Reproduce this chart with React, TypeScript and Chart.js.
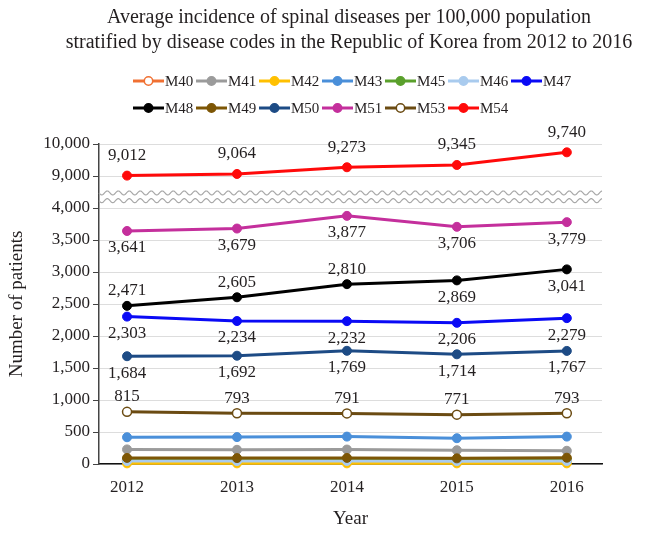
import React, { useEffect, useRef } from 'react';
import { Chart, registerables } from 'chart.js';

Chart.register(...registerables);

const FONT = "'Liberation Serif', 'DejaVu Serif', serif";
const TEXT = '#231f20';

const titleLines = [
  'Average incidence of spinal diseases per 100,000 population',
  'stratified by disease codes in the Republic of Korea from 2012 to 2016',
];
const xTitle = 'Year';
const yTitle = 'Number of patients';

const years = [2012, 2013, 2014, 2015, 2016];
const yTickValues = [0, 500, 1000, 1500, 2000, 2500, 3000, 3500, 4000, 9000, 10000];

const seriesNames = ['M40', 'M41', 'M42', 'M43', 'M45', 'M46', 'M47', 'M48', 'M49', 'M50', 'M51', 'M53', 'M54'];
const M40 = [60, 58, 62, 55, 60];
const M41 = [228, 222, 226, 215, 207];
const M42 = [10, 10, 10, 10, 10];
const M43 = [418, 420, 428, 403, 428];
const M45 = [70, 68, 72, 66, 70];
const M46 = [45, 45, 47, 44, 46];
const M47 = [2303, 2234, 2232, 2206, 2279];
const M48 = [2471, 2605, 2810, 2869, 3041];
const M49 = [95, 92, 95, 88, 98];
const M50 = [1684, 1692, 1769, 1714, 1767];
const M51 = [3641, 3679, 3877, 3706, 3779];
const M53 = [815, 793, 791, 771, 793];
const M54 = [9012, 9064, 9273, 9345, 9740];
const seriesValues = [M40, M41, M42, M43, M45, M46, M47, M48, M49, M50, M51, M53, M54];

const seriesColors = ['#f07032', '#9b9b9b', '#ffc000', '#4a8fd9', '#5aa02c', '#a9cbee', '#0a0af5', '#000000', '#7d5605', '#1d4b85', '#c42f9c', '#6b4b12', '#ff0a0a'];
const seriesHollow = [true, false, false, false, false, false, false, false, false, false, false, true, false];
// label placement: 'a' above, 'b' below, '' none
const seriesLabelPos = [
  '', '', '', '', '', '',
  'bbbbb', // M47
  'aaabb', // M48
  '',
  'bbbbb', // M50
  'bbbbb', // M51
  'aaaaa', // M53
  'aaaaa', // M54
];

// broken axis: 0-4000 linear, then 9000-10000 compressed by half
const BREAK_LOW = 4000;
const BREAK_HIGH = 9000;
const BREAK_GAP = 500;
const UPPER_FACTOR = 0.5;
const toDisplay = (v: number) => (v <= BREAK_LOW ? v : BREAK_LOW + BREAK_GAP + (v - BREAK_HIGH) * UPPER_FACTOR);
const fromDisplay = (d: number) => (d <= BREAK_LOW ? d : BREAK_HIGH + (d - BREAK_LOW - BREAK_GAP) / UPPER_FACTOR);

const fmt = (v: number) => Math.round(v).toLocaleString('en-US');

const decorPlugin = {
  id: 'decor',
  beforeDatasetsDraw(chart: any) {
    const { ctx, chartArea, scales } = chart;
    const y = scales.y;
    const yLow = y.getPixelForValue(BREAK_LOW);
    const yHigh = y.getPixelForValue(BREAK_LOW + BREAK_GAP);
    const gap = yLow - yHigh;
    const w1 = yLow - gap * 0.47;
    const w2 = yLow - gap * 0.23;
    ctx.save();
    ctx.strokeStyle = '#a8a8a8';
    ctx.lineWidth = 1.2;
    for (const wy of [w1, w2]) {
      ctx.beginPath();
      for (let x = chartArea.left; x <= chartArea.right; x += 0.5) {
        const yy = wy + 2 * Math.sin(((x - chartArea.left) / 11) * Math.PI * 2);
        if (x === chartArea.left) ctx.moveTo(x, yy);
        else ctx.lineTo(x, yy);
      }
      ctx.stroke();
    }
    ctx.restore();
  },
  afterDatasetsDraw(chart: any) {
    const { ctx } = chart;
    ctx.save();
    ctx.font = `17px ${FONT}`;
    ctx.fillStyle = TEXT;
    ctx.textAlign = 'center';
    ctx.textBaseline = 'middle';
    seriesValues.forEach((vals, si) => {
      const pos = seriesLabelPos[si];
      if (!pos) return;
      const meta = chart.getDatasetMeta(si);
      vals.forEach((v, i) => {
        const pt = meta.data[i];
        const off = pos[i] === 'a' ? (seriesNames[si] === 'M54' ? -20 : -15) : 17;
        ctx.fillText(fmt(v), pt.x, pt.y + off);
      });
    });
    ctx.restore();
  },
  afterDraw(chart: any) {
    const { ctx } = chart;
    ctx.save();
    // title
    ctx.fillStyle = TEXT;
    ctx.font = `20px ${FONT}`;
    ctx.textAlign = 'center';
    ctx.textBaseline = 'alphabetic';
    ctx.fillText(titleLines[0], 349, 23);
    ctx.fillText(titleLines[1], 349, 48);
    // legend
    const perRow = 7;
    const startX = 133;
    const slot = 63;
    const rowY = [81, 108];
    ctx.font = `15px ${FONT}`;
    ctx.textAlign = 'left';
    ctx.textBaseline = 'middle';
    chart.data.datasets.forEach((ds: any, i: number) => {
      const row = Math.floor(i / perRow);
      const col = i % perRow;
      const x = startX + col * slot;
      const y = rowY[row];
      ctx.strokeStyle = ds.borderColor;
      ctx.lineWidth = 3;
      ctx.beginPath();
      ctx.moveTo(x, y);
      ctx.lineTo(x + 31, y);
      ctx.stroke();
      ctx.beginPath();
      ctx.arc(x + 15.5, y, 4.2, 0, Math.PI * 2);
      ctx.fillStyle = ds.pointBackgroundColor;
      ctx.fill();
      ctx.lineWidth = 1.5;
      ctx.strokeStyle = ds.borderColor;
      ctx.stroke();
      ctx.fillStyle = TEXT;
      ctx.fillText(ds.label, x + 32, y + 1);
    });
    ctx.restore();
  },
};

export default function App() {
  const canvasRef = useRef<HTMLCanvasElement | null>(null);

  useEffect(() => {
    if (!canvasRef.current) return;
    Chart.defaults.font.family = FONT;
    const datasets = seriesNames.map((name, si) => ({
      label: name,
      data: seriesValues[si].map((v, i) => ({ x: years[i], y: toDisplay(v) })),
      borderColor: seriesColors[si],
      backgroundColor: seriesColors[si],
      pointBackgroundColor: seriesHollow[si] ? '#ffffff' : seriesColors[si],
      pointBorderColor: seriesColors[si],
      pointBorderWidth: seriesHollow[si] ? 1.5 : 1,
      pointRadius: 4.5,
      borderWidth: 3,
      tension: 0,
      clip: false,
      order: seriesNames.length - si,
    }));
    const chart = new Chart(canvasRef.current, {
      type: 'line',
      data: { datasets },
      options: {
        animation: false,
        responsive: true,
        maintainAspectRatio: false,
        layout: { padding: { top: 144, left: 0, right: 48, bottom: 0 } },
        plugins: {
          legend: { display: false },
          title: { display: false },
          tooltip: { enabled: false },
        },
        scales: {
          x: {
            type: 'linear',
            min: 2011.745,
            max: 2016.32,
            afterBuildTicks: (scale: any) => {
              scale.ticks = years.map((v) => ({ value: v }));
            },
            afterFit: (scale: any) => {
              scale.height = 70;
            },
            grid: { display: false },
            border: { display: true, color: '#111', width: 1.5 },
            ticks: {
              padding: 5,
              color: TEXT,
              font: { size: 17, family: FONT },
              callback: (v: any) => String(v),
            },
            title: {
              display: true,
              text: xTitle,
              color: TEXT,
              font: { size: 19, family: FONT },
              padding: { top: 0, bottom: 4 },
            },
          },
          y: {
            type: 'linear',
            min: 0,
            max: toDisplay(10000),
            afterBuildTicks: (scale: any) => {
              scale.ticks = yTickValues.map((v) => ({ value: toDisplay(v) }));
            },
            afterFit: (scale: any) => {
              scale.width = 99;
            },
            grid: { color: '#dddddd', lineWidth: 1, tickColor: '#444', tickLength: 6 },
            border: { display: true, color: '#444', width: 1.5 },
            ticks: {
              padding: 3,
              color: TEXT,
              font: { size: 17, family: FONT },
              callback: (v: any) => fmt(fromDisplay(Number(v))),
            },
            title: {
              display: true,
              text: yTitle,
              color: TEXT,
              font: { size: 19, family: FONT },
              padding: { top: 6, bottom: 0 },
            },
          },
        },
      },
      plugins: [decorPlugin],
    });
    return () => chart.destroy();
  }, []);

  return (
    <div style={{ position: 'fixed', left: 0, top: 0, width: 650, height: 534, background: '#fff' }}>
      <canvas ref={canvasRef} />
    </div>
  );
}
